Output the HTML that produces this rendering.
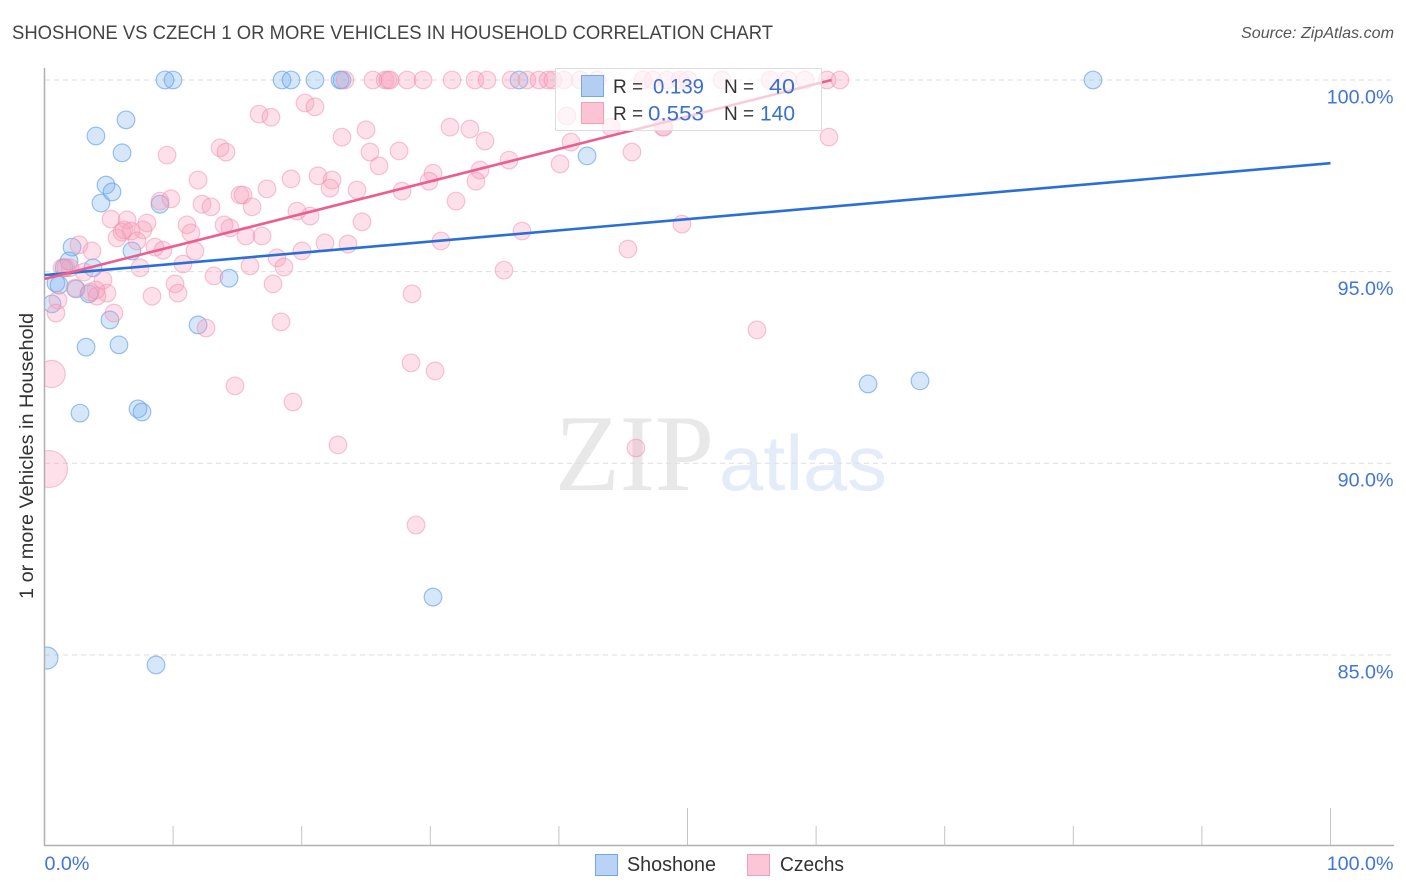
<!DOCTYPE html>
<html lang="en">
<head>
<meta charset="utf-8">
<title>Shoshone vs Czech 1 or more Vehicles in Household Correlation Chart</title>
<style>
html,body{margin:0;padding:0;background:#fff;}
svg{display:block;font-family:"Liberation Sans",sans-serif;}
</style>
</head>
<body>
<svg id="chart" width="1406" height="892" viewBox="0 0 1406 892" xmlns="http://www.w3.org/2000/svg">
  <text x="12" y="39" font-size="19" fill="#444" textLength="761" lengthAdjust="spacingAndGlyphs">SHOSHONE VS CZECH 1 OR MORE VEHICLES IN HOUSEHOLD CORRELATION CHART</text>
  <text x="1394" y="38" font-size="16" font-style="italic" fill="#555" text-anchor="end" textLength="153" lengthAdjust="spacingAndGlyphs">Source: ZipAtlas.com</text>
  <g>
    <text x="555" y="490" font-family="'Liberation Serif',serif" font-size="109" fill="#e8e8e8" textLength="159" lengthAdjust="spacingAndGlyphs">ZIP</text>
    <text x="719" y="490" font-size="78" fill="#e4ecf9" textLength="168" lengthAdjust="spacingAndGlyphs">atlas</text>
  </g>
  <g id="grid"></g>
  <g id="points"></g>
  <rect x="0" y="60" width="44.5" height="786" fill="#fff"/>
  <g id="axes"></g>
  <g id="trends"></g>
  <text transform="translate(33,456) rotate(-90)" font-size="19" fill="#333" text-anchor="middle" textLength="286" lengthAdjust="spacingAndGlyphs">1 or more Vehicles in Household</text>
  <g>
    <rect x="555.5" y="68.5" width="266" height="62" fill="#fff" fill-opacity="0.68" stroke="#dcdcdc" stroke-width="1"/>
    <rect x="581.5" y="75.5" width="22" height="21" fill="#b4cdf3" stroke="#72a8e8" stroke-width="1"/>
    <rect x="581.5" y="102.5" width="22" height="21" fill="#fcc3d5" stroke="#f0a0ba" stroke-width="1"/>
    <text x="613" y="93" font-size="19" fill="#333">R =</text>
    <text x="653" y="93.500" font-size="21" fill="#3a70d2" textLength="51" lengthAdjust="spacingAndGlyphs">0.139</text>
    <text x="724" y="93" font-size="19" fill="#333">N =</text>
    <text x="769" y="93.500" font-size="21" fill="#3a70d2" textLength="26" lengthAdjust="spacingAndGlyphs">40</text>
    <text x="613" y="120" font-size="19" fill="#333">R =</text>
    <text x="648" y="120.500" font-size="21" fill="#3a70d2" textLength="56" lengthAdjust="spacingAndGlyphs">0.553</text>
    <text x="724" y="120" font-size="19" fill="#333">N =</text>
    <text x="760" y="120.500" font-size="21" fill="#3a70d2" textLength="35" lengthAdjust="spacingAndGlyphs">140</text>
  </g>
  <g>
    <rect x="595.500" y="854.500" width="22" height="21" fill="#b8d3f6" stroke="#72a8e8" stroke-width="1"/>
    <text x="627" y="871" font-size="20" fill="#333" textLength="89" lengthAdjust="spacingAndGlyphs">Shoshone</text>
    <rect x="747.500" y="854.500" width="22" height="21" fill="#fcc6d7" stroke="#f0a0ba" stroke-width="1"/>
    <text x="780" y="871" font-size="20" fill="#333" textLength="64" lengthAdjust="spacingAndGlyphs">Czechs</text>
  </g>
</svg>
<script>
const yTickValues = [100, 95, 90, 85];
const yTickLabels = ["100.0%", "95.0%", "90.0%", "85.0%"];
const xTickValues = [0, 10, 20, 30, 40, 50, 60, 70, 80, 90, 100];
const xMajorTicks = [50, 100];
const xEndLabels = ["0.0%", "100.0%"];

const shoshoneX = [9.37,9.99,18.47,19.17,21.03,22.98,23.13,36.90,81.53,4.00,6.34,6.03,4.78,5.25,4.39,8.98,2.14,6.80,1.91,1.52,3.77,0.89,1.13,2.45,3.46,14.35,0.58,5.09,11.94,3.23,5.79,2.76,7.27,7.58,64.04,68.08,42.19,30.21,0.19,8.67];
const shoshoneY = [100,100,100,100,100,100,100,100,100,98.54,98.96,98.10,97.26,97.08,96.79,96.76,95.64,95.54,95.28,95.10,95.10,94.70,94.65,94.55,94.42,94.83,94.16,93.74,93.61,93.03,93.09,91.31,91.42,91.34,92.07,92.15,98.02,86.51,84.92,84.74];
const shoshoneSize = [1,1,1,1,1,1,1,1,1,1,1,1,1,1,1,1,1,1,1,1,1,1,1,1,1,1,1,1,1,1,1,1,1,1,1,1,1,1,1.25,1];

const czechX = [23.37,25.54,26.48,26.71,26.87,28.19,29.43,31.69,33.48,34.41,36.28,37.52,38.45,39.15,39.54,40.40,41.64,42.97,46.54,47.32,48.41,49.42,50.04,52.68,56.41,57.81,59.14,60.85,61.86,
16.68,17.61,20.26,21.03,31.53,33.08,25.00,23.13,34.25,13.65,14.11,9.53,25.31,27.57,40.94,45.68,48.17,61.00,40.63,44.05,48.09,
36.12,40.09,26.01,30.21,33.87,33.55,29.90,11.94,19.17,21.27,17.30,22.36,22.20,24.30,27.80,15.20,15.44,8.98,9.84,12.25,12.95,16.14,32.00,19.63,20.65,24.69,37.13,49.57,11.08,14.42,13.96,5.17,6.42,7.97,7.66,5.64,6.03,6.73,7.19,11.39,15.67,16.91,30.83,21.81,23.60,20.02,11.70,8.59,9.21,45.37,2.68,3.69,
15.98,7.43,10.77,18.08,18.62,35.73,13.18,4.55,17.77,10.15,10.38,8.36,28.58,4.86,4.08,3.07,1.98,1.36,2.37,1.05,0.89,5.40,12.56,18.39,55.40,28.50,30.37,14.81,19.32,22.82,45.99,28.89,0.55,0.35,1.67,4.00,3.54,6.18];
const czechY = [100,100,100,100,100,100,100,100,100,100,100,100,100,100,100,100,100,100,100,100,100,100,100,100,100,100,100,100,100,
99.11,99.03,99.40,99.30,98.77,98.72,98.70,98.51,98.41,98.23,98.12,98.04,98.12,98.15,98.38,98.12,98.77,98.51,99.06,98.77,98.77,
97.91,97.81,97.76,97.57,97.65,97.36,97.36,97.39,97.42,97.50,97.16,97.39,97.18,97.13,97.10,97.00,97.00,96.84,96.90,96.76,96.69,96.69,96.84,96.58,96.45,96.30,96.06,96.24,96.22,96.14,96.22,96.37,96.35,96.27,96.09,95.88,96.03,96.06,95.80,96.01,95.93,95.93,95.80,95.75,95.72,95.54,95.54,95.64,95.56,95.59,95.70,95.54,
95.15,95.10,95.20,95.36,95.12,95.04,94.89,94.78,94.68,94.68,94.44,94.36,94.42,94.44,94.36,94.99,95.10,95.10,94.57,94.26,93.92,93.92,93.53,93.69,93.48,92.62,92.41,92.02,91.60,90.48,90.40,88.39,92.33,89.85,95.10,94.52,94.47,96.09];
const czechLargeIndex = [134, 135];
const czechLargeSize = [1.55, 2.1];

const shoshoneTrendX = [0, 100];
const shoshoneTrendY = [94.91, 97.83];
const czechTrendX = [0, 61.2];
const czechTrendY = [94.81, 100];

const SVG_NS = "http://www.w3.org/2000/svg";
function xScale(v) { return 44.5 + v * 12.86; }
function yScale(v) { return 80 + (100 - v) * 38.33; }
function make(tag, attrs, parent) {
  const el = document.createElementNS(SVG_NS, tag);
  for (const k in attrs) el.setAttribute(k, attrs[k]);
  parent.appendChild(el);
  return el;
}

const grid = document.getElementById("grid");
const axes = document.getElementById("axes");
const points = document.getElementById("points");
const trends = document.getElementById("trends");

yTickValues.forEach(function (v, i) {
  const line = make("line", {x1: 45, x2: 1394, y1: yScale(v), y2: yScale(v), stroke: "#dedede", "stroke-width": 1, "stroke-dasharray": "5 4"}, grid);
  
  
  const label = make("text", {x: 1393.5, y: yScale(v) + 23.4, "font-size": 19.7, fill: "#4175d6", "text-anchor": "end"}, axes);
  label.textContent = yTickLabels[i];
  
  
});

const yAxisLine = make("line", {x1: 44.5, x2: 44.5, y1: 68, y2: 846, stroke: "#b0b0b0", "stroke-width": 1.5}, axes);


const xAxisLine = make("line", {x1: 44, x2: 1394, y1: 845.5, y2: 845.5, stroke: "#b0b0b0", "stroke-width": 1.5}, axes);



xTickValues.forEach(function (v) {
  if (v === 0) return;
  const top = xMajorTicks.indexOf(v) >= 0 ? 808 : 826;
  const tick = make("line", {x1: xScale(v), x2: xScale(v), y1: top, y2: 845, stroke: "#c4c4c4", "stroke-width": 1}, axes);
  
  
});

const xLabelLeft = make("text", {x: xScale(0), y: 870, "font-size": 19.7, fill: "#4175d6"}, axes);
xLabelLeft.textContent = xEndLabels[0];


const xLabelRight = make("text", {x: 1393.5, y: 870, "font-size": 19.7, fill: "#4175d6", "text-anchor": "end"}, axes);
xLabelRight.textContent = xEndLabels[1];



const BASE_RADIUS = 8.8;

shoshoneX.forEach(function (v, i) {
  const c = make("circle", {cx: xScale(v), cy: yScale(shoshoneY[i]), r: BASE_RADIUS * shoshoneSize[i], fill: "#78aeee", "fill-opacity": 0.3, stroke: "#6ea6e8", "stroke-opacity": 0.7, "stroke-width": 1.2}, points);
  
  
});

czechX.forEach(function (v, i) {
  const k = czechLargeIndex.indexOf(i);
  const size = k >= 0 ? czechLargeSize[k] : 1;
  const c = make("circle", {cx: xScale(v), cy: yScale(czechY[i]), r: BASE_RADIUS * size, fill: "#f8a0bc", "fill-opacity": 0.32, stroke: "#ee90ae", "stroke-opacity": 0.5, "stroke-width": 1.2}, points);
  
  
});

const shoshoneTrend = make("line", {x1: xScale(shoshoneTrendX[0]), y1: yScale(shoshoneTrendY[0]), x2: xScale(shoshoneTrendX[1]), y2: yScale(shoshoneTrendY[1]), stroke: "#2a6fd8", "stroke-width": 2.6}, trends);


const czechTrend = make("line", {x1: xScale(czechTrendX[0]), y1: yScale(czechTrendY[0]), x2: xScale(czechTrendX[1]), y2: yScale(czechTrendY[1]), stroke: "#ea5f90", "stroke-width": 2.6}, trends);


</script>
</body>
</html>
